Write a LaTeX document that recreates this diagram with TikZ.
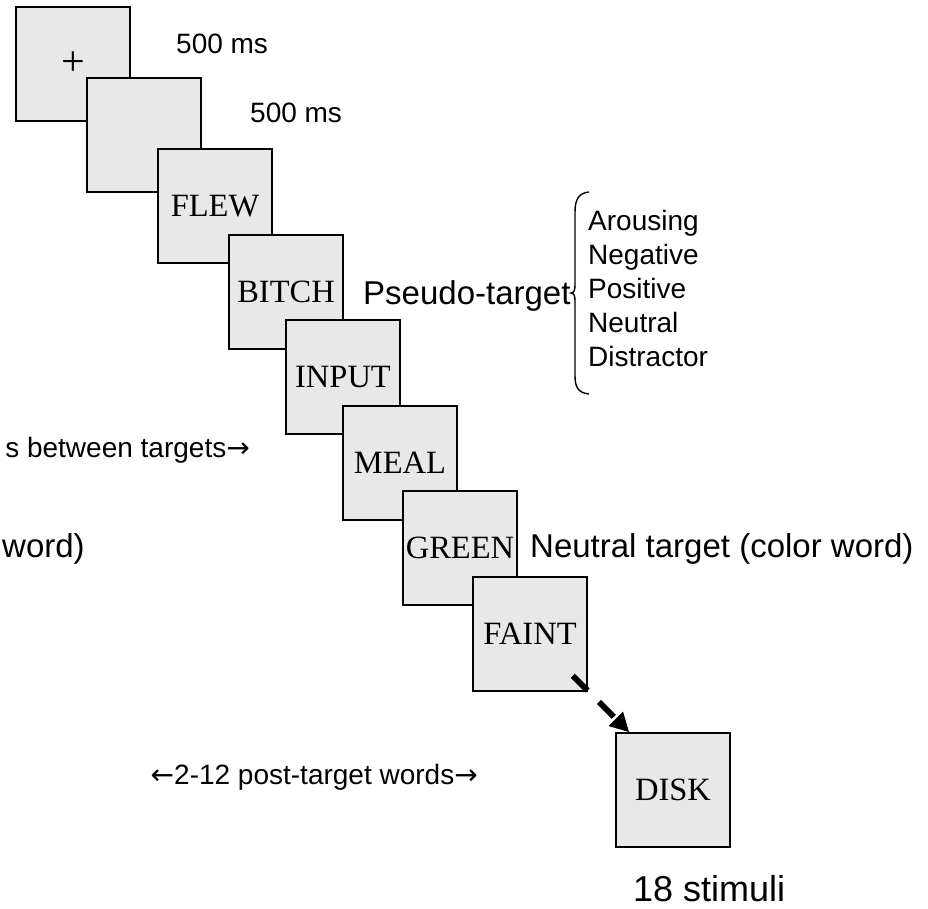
\documentclass[tikz,border=0pt]{standalone}
\usepackage{fontspec}
\setmainfont{Liberation Serif}
\setsansfont{Liberation Sans}
\newfontfamily\arrowfont{DejaVu Sans}
\usetikzlibrary{arrows.meta}
\definecolor{boxgray}{RGB}{232,232,232}
\newcommand{\rarr}{{\arrowfont →}}
\newcommand{\larr}{{\arrowfont ←}}
\tikzset{
  x=1pt, y=-1pt,
  stimbox/.style={draw=black, fill=boxgray, line width=1.5pt, minimum size=114pt, inner sep=0pt,
    font=\rmfamily\fontsize{32.5}{40}\selectfont},
  smalllab/.style={inner sep=0pt, font=\sffamily\fontsize{28}{32}\selectfont},
  biglab/.style={inner sep=0pt, font=\sffamily\fontsize{33}{38}\selectfont},
  hugelab/.style={inner sep=0pt, font=\sffamily\fontsize{36}{40}\selectfont},
  nextarrow/.style={line width=6pt, dash pattern=on 21pt off 16pt, -{Triangle[length=19pt,width=19pt]}},
  bracestyle/.style={line width=1.4pt}
}
\begin{document}
\begin{tikzpicture}
\useasboundingbox (0,0) rectangle (928,908);
% stimulus boxes
\node[stimbox, font=\rmfamily\fontsize{42}{46}\selectfont] (fix) at (73,64) {+};
\node[stimbox] (blank) at (144,135) {};
\node[stimbox] (flew) at (215,206) {FLEW};
\node[stimbox] (bitch) at (286,292) {BITCH};
\node[stimbox] (input) at (343,377) {INPUT};
\node[stimbox] (meal) at (400,463) {MEAL};
\node[stimbox] (green) at (460,548) {GREEN};
\node[stimbox] (faint) at (530,634) {FAINT};
\node[stimbox] (disk) at (673,790) {DISK};
% timing labels
\node[smalllab, anchor=base west] (t1) at (176,53) {500 ms};
\node[smalllab, anchor=base west] (t2) at (250,122) {500 ms};
% pseudo-target
\node[biglab, anchor=base west] (pseudo) at (363,304) {Pseudo-target};
\draw[bracestyle] (589,192) .. controls (579,193) and (575,199) .. (575,212) -- (575,285)
  .. controls (575,290) and (574,293) .. (571,293)
  .. controls (574,293) and (575,296) .. (575,301) -- (575,376)
  .. controls (575,388) and (579,393) .. (589,394);
\node[smalllab, anchor=base west] (l1) at (588,230) {Arousing};
\node[smalllab, anchor=base west] (l2) at (588,264) {Negative};
\node[smalllab, anchor=base west] (l3) at (588,298) {Positive};
\node[smalllab, anchor=base west] (l4) at (588,332) {Neutral};
\node[smalllab, anchor=base west] (l5) at (588,366) {Distractor};
% left cut labels
\node[smalllab, anchor=base east] (between) at (250,457) {s between targets\rarr};
\node[biglab, anchor=base west] (wordcut) at (2,557) {word)};
% neutral target
\node[biglab, anchor=base west] (neutral) at (530,557) {Neutral target (color word)};
% post-target
\node[smalllab, anchor=base east] (post) at (478,784) {\larr 2-12 post-target words\rarr};
\node[hugelab, anchor=base west] (stim) at (633,901) {18 stimuli};
% arrow
\draw[nextarrow] ([shift={(-15,-16)}]faint.south east) -- ([shift={(14,0)}]disk.north west);
\end{tikzpicture}
\end{document}
